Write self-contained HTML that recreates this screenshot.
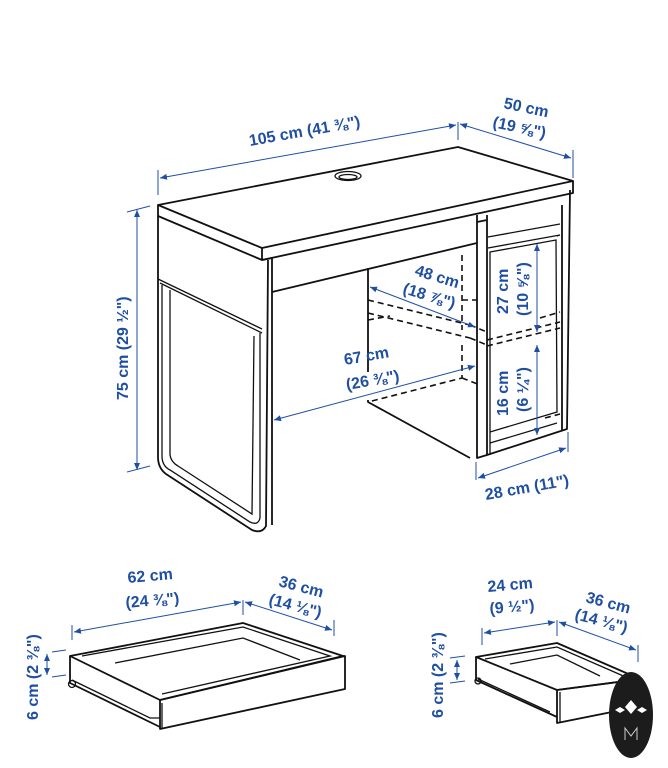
<!DOCTYPE html><html><head><meta charset="utf-8"><style>
html,body{margin:0;padding:0;background:#fff}
svg{display:block}
text{font-family:"Liberation Sans",sans-serif;font-weight:bold;fill:#1f4fa3;font-size:16px}
.k{stroke:#111;stroke-width:1.8;fill:none;stroke-linejoin:round}
.t{stroke:#111;stroke-width:1.3;fill:none}
.d{stroke:#111;stroke-width:1.6;fill:none;stroke-dasharray:6 4}
.b{stroke:#1f4fa3;stroke-width:1;fill:none}
.a{fill:#1f4fa3}
</style></head><body>
<svg width="668" height="768" viewBox="0 0 668 768">
<defs><marker id="m" markerWidth="8" markerHeight="8" refX="7" refY="4" orient="auto-start-reverse"><path d="M0,1 L7,4 L0,7z" class="a"/></marker></defs>
<path class="k" fill="#fff" d="M158,205 L458,147 L573,181 L262,248 Z"/>
<path class="k" d="M158,205 L158,216 L262,260 L573,193 L573,181 M262,248 L262,260"/>
<ellipse cx="348" cy="176" rx="13" ry="4.5" class="t"/><ellipse cx="348" cy="177" rx="9" ry="2.5" class="t"/>
<path class="k" d="M158,216 L158,457 Q158,468 166,474 L252,530 Q262,534 266,526 L268,260"/>
<path class="t" d="M158,279 L262,329 M160,283 L262,333"/>
<path class="t" d="M162,285 L162,456 Q162,466 170,470 L250,522 Q258,526 260,518 L260,333"/>
<path class="t" d="M170,290 L170,455 Q171,462 178,466 L252,514 L254,336"/>
<path class="k" d="M262,260 L272,258 L272,525"/>
<path class="k" d="M272,292 L477,243"/>
<path class="k" d="M368,268 L368,372 M368,400 L368,402 L470,458"/>
<path class="d" d="M368,300 L470,325 M368,313 L470,338 M368,320 L390,316 M462,255 L462,330 M462,345 L462,378 L368,402 M462,378 L480,385 M462,300 L477,300"/>
<path class="d" d="M487,340 L560,322 M487,346 L560,328 M540,318 L560,312 M545,418 L560,414 M470,325 L487,332 M470,338 L487,345"/>
<path class="k" d="M477,243 L477,458 L487,455 L487,215 M487,455 L567,429 L570,190 M562,205 L562,430 M477,243 L477,215 M477,222 L487,220"/>
<path class="t" d="M488,237 L560,224 M488,248 L560,235 L557,236 M490,252 L556,240 L557,412 L490,432 Z M490,432 L490,455 M490,443 L557,423"/>
<path class="b" d="M158,195 L158,170 M458,140 L458,122 M573,150 L573,178"/>
<path class="b" marker-start="url(#m)" marker-end="url(#m)" d="M160,178 L456,125"/>
<path class="b" marker-start="url(#m)" marker-end="url(#m)" d="M460,124 L571,158"/>
<text transform="translate(250,146) rotate(-10)">105 cm (41 ⅜")</text>
<text transform="translate(503,108) rotate(12)">50 cm</text>
<text transform="translate(492,127) rotate(12)">(19 ⅝")</text>
<path class="b" d="M127,212 L150,206 M127,472 L150,466"/>
<path class="b" marker-start="url(#m)" marker-end="url(#m)" d="M137,210 L137,470"/>
<text transform="translate(128,400) rotate(-90)">75 cm (29 ½")</text>
<path class="b" marker-start="url(#m)" marker-end="url(#m)" d="M370,287 L475,327"/>
<text transform="translate(414,275) rotate(17)">48 cm</text>
<text transform="translate(402,293) rotate(17)">(18 ⅞")</text>
<path class="b" marker-start="url(#m)" marker-end="url(#m)" d="M274,420 L475,366"/>
<text transform="translate(345,365) rotate(-10)">67 cm</text>
<text transform="translate(347,390) rotate(-10)">(26 ⅜")</text>
<path class="b" marker-start="url(#m)" marker-end="url(#m)" d="M537,244 L537,332"/>
<path class="b" marker-start="url(#m)" marker-end="url(#m)" d="M537,345 L537,435"/>
<text transform="translate(508,314) rotate(-90)">27 cm</text>
<text transform="translate(528,316) rotate(-90)">(10 ⅝")</text>
<text transform="translate(508,416) rotate(-90)">16 cm</text>
<text transform="translate(528,412) rotate(-90)">(6 ¼")</text>
<path class="b" d="M476,462 L476,480 M568,432 L568,452"/>
<path class="b" marker-start="url(#m)" marker-end="url(#m)" d="M478,478 L566,448"/>
<text transform="translate(486,500) rotate(-10)">28 cm (11")</text>
<path class="k" fill="#fff" d="M70,656 L243,623 L343,656 L160,700 Z"/>
<path class="t" d="M82,656 L243,627 L330,656 L162,694 M115,663 L243,638 L300,660"/>
<path class="k" d="M70,656 L70,683 L160,727 M160,700 L160,729 L345,689 L345,656 L343,656 M160,700 L345,656"/>
<path class="t" d="M72,680 L150,718 L160,718 M162,703 L162,729"/>
<circle cx="72" cy="684" r="3.5" class="t"/>
<path class="b" d="M72,640 L72,625 M243,615 L243,600 M334,620 L334,636 M52,652 L66,650 M52,677 L66,675"/>
<path class="b" marker-start="url(#m)" marker-end="url(#m)" d="M74,632 L241,602"/>
<path class="b" marker-start="url(#m)" marker-end="url(#m)" d="M245,602 L332,630"/>
<path class="b" marker-start="url(#m)" marker-end="url(#m)" d="M47,654 L47,675"/>
<text x="128" y="583" transform="rotate(-5 128 583)">62 cm</text>
<text x="126" y="608" transform="rotate(-5 126 608)">(24 ⅜")</text>
<text transform="translate(278,586) rotate(15)">36 cm</text>
<text transform="translate(268,604) rotate(15)">(14 ⅛")</text>
<text transform="translate(38,720) rotate(-90)">6 cm (2 ⅜")</text>
<path class="k" fill="#fff" d="M476,657 L557,643 L640,679 L557,690 Z"/>
<path class="t" d="M485,659 L557,647 L628,678 M510,664 L557,655 L600,676"/>
<path class="k" d="M476,657 L476,680 L557,717 M557,690 L557,723 L642,706 L642,679 L640,679 M557,690 L642,679"/>
<path class="t" d="M478,679 L550,712 M560,692 L560,722"/>
<circle cx="478" cy="681" r="3" class="t"/>
<path class="b" d="M482,645 L482,628 M557,636 L557,620 M638,662 L638,645 M450,658 L465,656 M450,683 L465,681"/>
<path class="b" marker-start="url(#m)" marker-end="url(#m)" d="M484,633 L555,622"/>
<path class="b" marker-start="url(#m)" marker-end="url(#m)" d="M559,622 L636,650"/>
<path class="b" marker-start="url(#m)" marker-end="url(#m)" d="M457,660 L457,680"/>
<text x="488" y="592" transform="rotate(-5 488 592)">24 cm</text>
<text x="490" y="614" transform="rotate(-5 490 614)">(9 ½")</text>
<text transform="translate(585,602) rotate(15)">36 cm</text>
<text transform="translate(574,619) rotate(15)">(14 ⅛")</text>
<text transform="translate(443,718) rotate(-90)">6 cm (2 ⅜")</text>
<ellipse cx="631" cy="715" rx="22" ry="43" fill="#1c1c1c"/>
<path d="M631,700 L637,707 L631,714 L625,707Z M620,707 L625,710 L620,713 L615,710Z M642,707 L647,710 L642,713 L637,710Z" fill="#fff"/>
<path d="M625,740 L625,728 L631,736 L637,728 L637,740" stroke="#ccc" stroke-width="1" fill="none"/>
</svg>
</body></html>
